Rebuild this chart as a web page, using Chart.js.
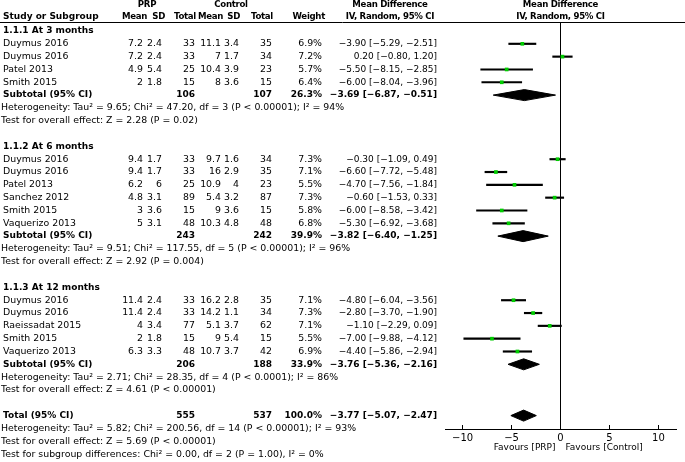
<!DOCTYPE html>
<html>
<head>
<meta charset="utf-8">
<script src="https://cdn.jsdelivr.net/npm/chart.js@4.4.0/dist/chart.umd.min.js"></script>
<style>
  html, body { margin: 0; padding: 0; background: #fff; }
  #wrap { width: 685px; height: 462px; position: relative; }
</style>
</head>
<body>
<div id="wrap"><canvas id="forestChart"></canvas></div>
<script>
// ---- data ----
const groupTitles = ["1.1.1 At 3 months", "1.1.2 At 6 months", "1.1.3 At 12 months"];

const studyNames = [
  "Duymus 2016", "Duymus 2016", "Patel 2013", "Smith 2015",
  "Duymus 2016", "Duymus 2016", "Patel 2013", "Sanchez 2012", "Smith 2015", "Vaquerizo 2013",
  "Duymus 2016", "Duymus 2016", "Raeissadat 2015", "Smith 2015", "Vaquerizo 2013"
];
const studyGroup = [0, 0, 0, 0, 1, 1, 1, 1, 1, 1, 2, 2, 2, 2, 2];

const prpMean  = [7.2, 7.2, 4.9, 2,   9.4, 9.4, 6.2, 4.8, 3, 5,    11.4, 11.4, 4, 2, 6.3];
const prpSD    = [2.4, 2.4, 5.4, 1.8, 1.7, 1.7, 6, 3.1, 3.6, 3.1,  2.4, 2.4, 3.4, 1.8, 3.3];
const prpTotal = [33, 33, 25, 15,     33, 33, 25, 89, 15, 48,      33, 33, 77, 15, 48];
const ctlMean  = [11.1, 7, 10.4, 8,   9.7, 16, 10.9, 5.4, 9, 10.3, 16.2, 14.2, 5.1, 9, 10.7];
const ctlSD    = [3.4, 1.7, 3.9, 3.6, 1.6, 2.9, 4, 3.2, 3.6, 4.8,  2.8, 1.1, 3.7, 5.4, 3.7];
const ctlTotal = [35, 34, 23, 15,     34, 35, 23, 87, 15, 48,      35, 34, 62, 15, 42];
const weights  = [6.9, 7.2, 5.7, 6.4, 7.3, 7.1, 5.5, 7.3, 5.8, 6.8, 7.1, 7.3, 7.1, 5.5, 6.9];
const mdEst    = [-3.90, 0.20, -5.50, -6.00, -0.30, -6.60, -4.70, -0.60, -6.00, -5.30, -4.80, -2.80, -1.10, -7.00, -4.40];
const mdLow    = [-5.29, -0.80, -8.15, -8.04, -1.09, -7.72, -7.56, -1.53, -8.58, -6.92, -6.04, -3.70, -2.29, -9.88, -5.86];
const mdHigh   = [-2.51, 1.20, -2.85, -3.96, 0.49, -5.48, -1.84, 0.33, -3.42, -3.68, -3.56, -1.90, 0.09, -4.12, -2.94];

const subPrpTotal = [106, 243, 206];
const subCtlTotal = [107, 242, 188];
const subWeight   = [26.3, 39.9, 33.9];
const subEst      = [-3.69, -3.82, -3.76];
const subLow      = [-6.87, -6.40, -5.36];
const subHigh     = [-0.51, -1.25, -2.16];
const subHet = [
  "Heterogeneity: Tau² = 9.65; Chi² = 47.20, df = 3 (P < 0.00001); I² = 94%",
  "Heterogeneity: Tau² = 9.51; Chi² = 117.55, df = 5 (P < 0.00001); I² = 96%",
  "Heterogeneity: Tau² = 2.71; Chi² = 28.35, df = 4 (P < 0.0001); I² = 86%"
];
const subTest = [
  "Test for overall effect: Z = 2.28 (P = 0.02)",
  "Test for overall effect: Z = 2.92 (P = 0.004)",
  "Test for overall effect: Z = 4.61 (P < 0.00001)"
];

const totalPrp = 555;
const totalCtl = 537;
const totalWeight = 100.0;
const totalEst = [-3.77, -5.07, -2.47];   // estimate, low, high
const totalNotes = [
  "Heterogeneity: Tau² = 5.82; Chi² = 200.56, df = 14 (P < 0.00001); I² = 93%",
  "Test for overall effect: Z = 5.69 (P < 0.00001)",
  "Test for subgroup differences: Chi² = 0.00, df = 2 (P = 1.00), I² = 0%"
];

const xTicks = [-10, -5, 0, 5, 10];

// ---- row layout (one row index per text line) ----
const studyRow = [], titleRow = [], subRow = [], hetRow = [], testRow = [];
let r = 0;
groupTitles.forEach(function (t, g) {
  titleRow[g] = r++;
  studyNames.forEach(function (n, i) {
    if (studyGroup[i] === g) studyRow[i] = r++;
  });
  subRow[g] = r++;
  hetRow[g] = r++;
  testRow[g] = r++;
  r++;
});
const totalRow = r;

const FONT = '"DejaVu Sans", sans-serif';
const fmt = function (v, d) {
  return (d === undefined ? String(v) : v.toFixed(d)).replace("-", "\u2212");
};
const ciText = function (e, l, h) {
  return fmt(e, 2) + " [" + fmt(l, 2) + ", " + fmt(h, 2) + "]";
};

// ---- datasets ----
const squares = {
  type: "scatter",
  data: mdEst.map(function (v, i) { return { x: v, y: studyRow[i] }; }),
  pointStyle: "rect",
  pointRadius: 2.6,
  backgroundColor: "#00cc00",
  borderWidth: 0
};

const ciBars = {
  type: "bar",
  indexAxis: "y",
  data: mdEst.map(function (v, i) { return { y: studyRow[i], x: [mdLow[i], mdHigh[i]] }; }),
  backgroundColor: "#000",
  borderWidth: 0,
  barThickness: 1.5
};

const DH = 0.43; // half height of a diamond, in rows
function diamond(e, l, h, row) {
  return {
    type: "scatter",
    showLine: true,
    data: [
      { x: l, y: row }, { x: e, y: row - DH }, { x: h, y: row },
      { x: e, y: row + DH }, { x: l, y: row }
    ],
    borderColor: "#000",
    backgroundColor: "#000",
    borderWidth: 1,
    pointRadius: 0,
    fill: "shape"
  };
}

const datasets = [squares, ciBars];
subEst.forEach(function (e, g) {
  datasets.push(diamond(e, subLow[g], subHigh[g], subRow[g]));
});
datasets.push(diamond(totalEst[0], totalEst[1], totalEst[2], totalRow));

// ---- table text ----
const tablePlugin = {
  id: "tableText",
  afterDraw: function (chart) {
    const ctx = chart.ctx;
    const ys = chart.scales.y;
    const xs = chart.scales.x;
    ctx.save();
    ctx.fillStyle = "#000";
    ctx.textBaseline = "middle";

    function t(str, x, y, align, bold, size, spacing) {
      ctx.font = (bold ? "bold " : "") + (size || (bold ? 9 : 9.4)) + "px " + FONT;
      ctx.letterSpacing = spacing || "0px";
      ctx.textAlign = align;
      ctx.fillText(str, x, y);
    }
    const col = { name: 3, pm: 143, psd: 162, pn: 195, cm: 221, csd: 239, cn: 272, w: 322, ci: 437 };

    // header
    const hs = 8.6, sp = "-0.3px";
    t("PRP", 147, 5, "center", true, hs, sp);
    t("Control", 231, 5, "center", true, hs, sp);
    t("Mean Difference", 390, 5, "center", true, hs, sp);
    t("Mean Difference", xs.getPixelForValue(0), 5, "center", true, hs, sp);
    t("Study or Subgroup", col.name, 17, "left", true);
    t("Mean", 147, 17, "right", true, hs, sp);
    t("SD", 165, 17, "right", true, hs, sp);
    t("Total", 196, 17, "right", true, hs, sp);
    t("Mean", 223, 17, "right", true, hs, sp);
    t("SD", 240, 17, "right", true, hs, sp);
    t("Total", 273, 17, "right", true, hs, sp);
    t("Weight", 325, 17, "right", true, hs, sp);
    t("IV, Random, 95% CI", 390, 17, "center", true, hs, sp);
    t("IV, Random, 95% CI", xs.getPixelForValue(0), 17, "center", true, hs, sp);
    ctx.letterSpacing = "0px";

    ctx.strokeStyle = "#000";
    ctx.lineWidth = 1;
    ctx.beginPath();
    ctx.moveTo(0, chart.chartArea.top - 0.5);
    ctx.lineTo(chart.width, chart.chartArea.top - 0.5);
    ctx.stroke();

    groupTitles.forEach(function (title, g) {
      t(title, col.name, ys.getPixelForValue(titleRow[g]), "left", true);
      const sy = ys.getPixelForValue(subRow[g]);
      t("Subtotal (95% CI)", col.name, sy, "left", true);
      t(String(subPrpTotal[g]), col.pn, sy, "right", true);
      t(String(subCtlTotal[g]), col.cn, sy, "right", true);
      t(subWeight[g].toFixed(1) + "%", col.w, sy, "right", true);
      t(ciText(subEst[g], subLow[g], subHigh[g]), col.ci, sy, "right", true);
      t(subHet[g], 1, ys.getPixelForValue(hetRow[g]), "left", false);
      t(subTest[g], 1, ys.getPixelForValue(testRow[g]), "left", false);
    });

    studyNames.forEach(function (n, i) {
      const y = ys.getPixelForValue(studyRow[i]);
      t(n, col.name, y, "left", false);
      t(fmt(prpMean[i]), col.pm, y, "right", false);
      t(fmt(prpSD[i]), col.psd, y, "right", false);
      t(String(prpTotal[i]), col.pn, y, "right", false);
      t(fmt(ctlMean[i]), col.cm, y, "right", false);
      t(fmt(ctlSD[i]), col.csd, y, "right", false);
      t(String(ctlTotal[i]), col.cn, y, "right", false);
      t(weights[i].toFixed(1) + "%", col.w, y, "right", false);
      t(ciText(mdEst[i], mdLow[i], mdHigh[i]), col.ci, y, "right", false, 9);
    });

    const ty = ys.getPixelForValue(totalRow);
    t("Total (95% CI)", col.name, ty, "left", true);
    t(String(totalPrp), col.pn, ty, "right", true);
    t(String(totalCtl), col.cn, ty, "right", true);
    t(totalWeight.toFixed(1) + "%", col.w, ty, "right", true);
    t(ciText(totalEst[0], totalEst[1], totalEst[2]), col.ci, ty, "right", true);
    totalNotes.forEach(function (s, k) {
      t(s, 1, ys.getPixelForValue(totalRow + 1 + k), "left", false);
    });

    // favours labels under the axis
    const zx = xs.getPixelForValue(0);
    t("Favours [PRP]", zx - 5, 448, "right", false, 9);
    t("Favours [Control]", zx + 5, 448, "left", false, 9);
    ctx.restore();
  }
};

// ---- chart ----
const PITCH = 12.82, FIRST_ROW_Y = 31, AREA_TOP = 23, AREA_BOTTOM = 429;
const yMin = (AREA_TOP - FIRST_ROW_Y) / PITCH;
const yMax = yMin + (AREA_BOTTOM - AREA_TOP) / PITCH;

new Chart(document.getElementById("forestChart"), {
  type: "scatter",
  data: { datasets: datasets },
  options: {
    responsive: true,
    maintainAspectRatio: false,
    animation: false,
    layout: {
      padding: { left: 445, right: 9, top: AREA_TOP, bottom: 462 - AREA_BOTTOM - 22 }
    },
    plugins: {
      legend: { display: false },
      tooltip: { enabled: false }
    },
    scales: {
      x: {
        type: "linear",
        min: -11.8,
        max: 11.8,
        offset: false,
        afterBuildTicks: function (axis) {
          axis.ticks = xTicks.map(function (v) { return { value: v }; });
        },
        afterFit: function (axis) { axis.height = 22; },
        grid: {
          offset: false,
          color: function (c) {
            return c.tick && c.tick.value === 0 ? "#000" : "rgba(0,0,0,0)";
          },
          tickColor: "#000",
          tickLength: -4,
          lineWidth: 1
        },
        border: { display: true, color: "#000", width: 1 },
        ticks: {
          padding: 7,
          color: "#000",
          font: { family: FONT, size: 10 },
          callback: function (v) { return fmt(v); }
        }
      },
      y: {
        type: "linear",
        display: false,
        reverse: true,
        offset: false,
        grid: { offset: false },
        min: yMin,
        max: yMax
      }
    }
  },
  plugins: [tablePlugin]
});
</script>
</body>
</html>
